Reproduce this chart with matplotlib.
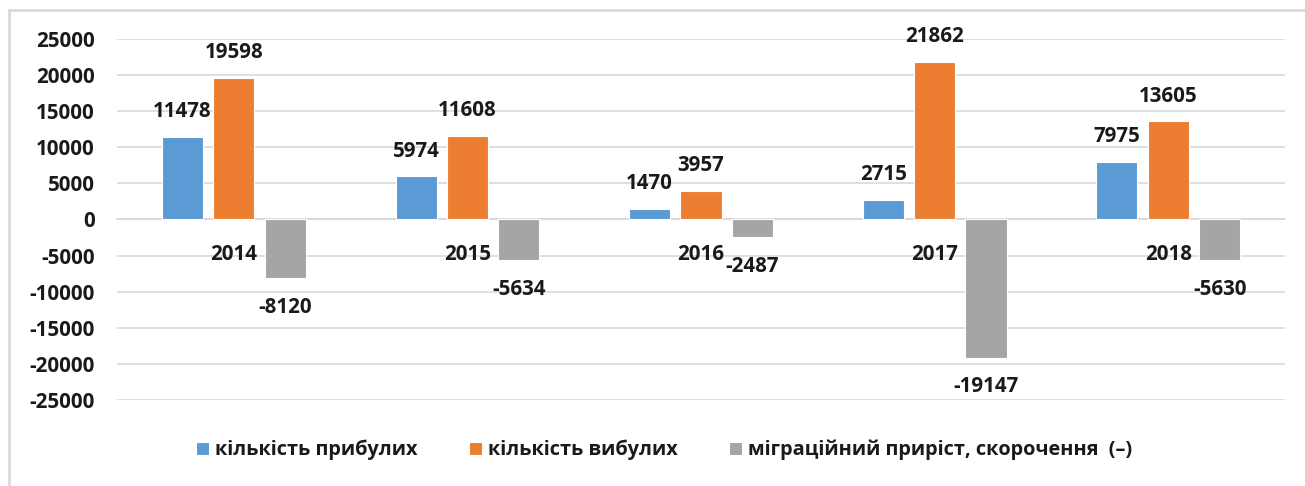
import matplotlib.pyplot as plt
import matplotlib.patches as patches
import numpy as np

# Data
years = ["2014", "2015", "2016", "2017", "2018"]
arrived = [11478, 5974, 1470, 2715, 7975]
departed = [19598, 11608, 3957, 21862, 13605]
migration = [-8120, -5634, -2487, -19147, -5630]

series = [
    ("кількість прибулих", arrived, "#5B9BD5"),
    ("кількість вибулих", departed, "#ED7D31"),
    ("міграційний приріст, скорочення  (–)", migration, "#A5A5A5"),
]

plt.rcParams["font.family"] = ["Open Sans", "DejaVu Sans"]
plt.rcParams["font.weight"] = "bold"
plt.rcParams["axes.unicode_minus"] = False

fig = plt.figure(figsize=(13.05, 4.86), dpi=100)
ax = fig.add_axes([0.0897, 0.177, 0.895, 0.743])

x = np.arange(len(years))
width = 0.176
step = 0.22

for i, (name, vals, color) in enumerate(series):
    pos = x + (i - 1) * step
    bars = ax.bar(pos, vals, width, color=color, label=name,
                  edgecolor="white", linewidth=0.8, zorder=3)
    for b, v in zip(bars, vals):
        off = 18 if v >= 0 else -21
        ax.annotate(str(v), (b.get_x() + b.get_width() / 2, v),
                    xytext=(0, off), textcoords="offset points",
                    ha="center", va="center", fontsize=14.8,
                    fontweight="bold", color="#1a1a1a", zorder=5)

# year labels sit just under the zero line, above the bars
for xi, yr in zip(x, years):
    ax.annotate(yr, (xi, 0), xytext=(0, -25), textcoords="offset points",
                ha="center", va="center", fontsize=14.8, fontweight="bold",
                color="#1a1a1a", zorder=6)

ax.set_xlim(-0.5, len(years) - 0.5)
ax.set_ylim(-25000, 25000)
ax.set_yticks(np.arange(-25000, 25001, 5000))
ax.set_xticks([])

ax.grid(axis="y", color="#D9D9D9", linewidth=1.2, zorder=0)
ax.set_axisbelow(True)
for s in ["top", "right", "left"]:
    ax.spines[s].set_visible(False)
ax.spines["bottom"].set_position(("data", 0))
ax.spines["bottom"].set_color("#D9D9D9")
ax.spines["bottom"].set_linewidth(1.2)
ax.tick_params(axis="y", length=0, pad=16, labelsize=14.8, labelcolor="#1a1a1a")

leg = ax.legend(loc="center", bbox_to_anchor=(0.509, 0.074),
                bbox_transform=fig.transFigure, ncol=3, frameon=False,
                fontsize=14.3, handlelength=0.65, handleheight=0.65,
                handletextpad=0.3, columnspacing=2.6)
for t in leg.get_texts():
    t.set_fontweight("bold")
    t.set_color("#1a1a1a")

# chart border
fig.patches.append(patches.Rectangle((9 / 1305, -0.1), 1.2, 1.1 - 10 / 486,
                                     transform=fig.transFigure, fill=False,
                                     edgecolor="#D9D9D9", linewidth=2))

fig.savefig("out.png", dpi=100)
